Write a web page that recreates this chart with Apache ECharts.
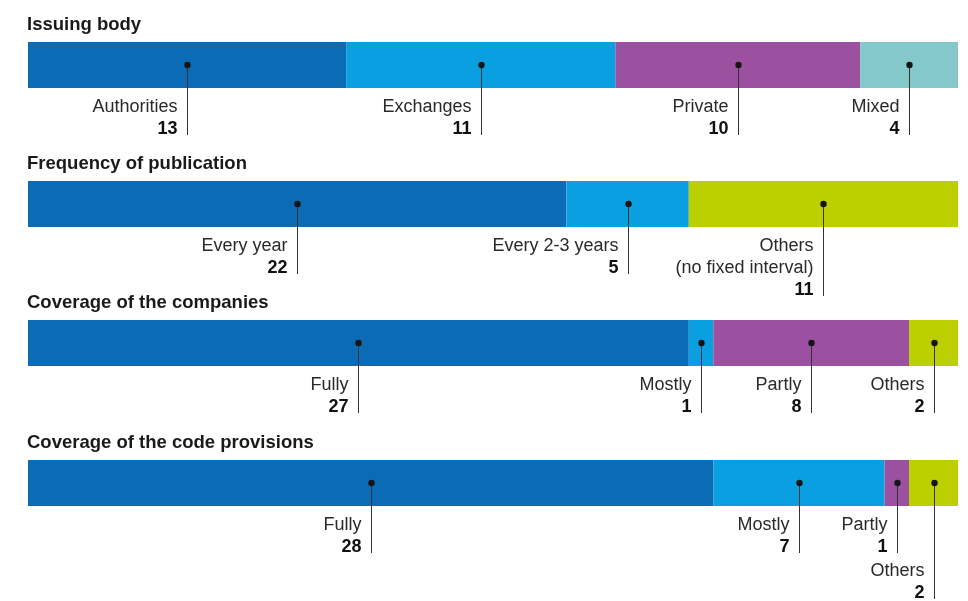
<!DOCTYPE html>
<html><head><meta charset="utf-8">
<script src="https://cdn.jsdelivr.net/npm/echarts@6/dist/echarts.min.js"></script>
<style>html,body{margin:0;padding:0;background:#fff}#c{width:968px;height:601px}</style>
</head><body><div id="c"></div>
<script>
// ---- data ----
const groupTitles = ["Issuing body", "Frequency of publication", "Coverage of the companies", "Coverage of the code provisions"];
const issuingLabels = ["Authorities", "Exchanges", "Private", "Mixed"];
const issuingValues = [13, 11, 10, 4];
const frequencyLabels = ["Every year", "Every 2-3 years", "Others\n(no fixed interval)"];
const frequencyValues = [22, 5, 11];
const companiesLabels = ["Fully", "Mostly", "Partly", "Others"];
const companiesValues = [27, 1, 8, 2];
const provisionsLabels = ["Fully", "Mostly", "Partly", "Others"];
const provisionsValues = [28, 7, 1, 2];

// ---- styles ----
const C = { dark: "#0b6cb5", light: "#0a9fe0", purple: "#9c50a0", teal: "#84c8cb", lime: "#bccf00" };
const groupColors = [
  [C.dark, C.light, C.purple, C.teal],
  [C.dark, C.light, C.lime],
  [C.dark, C.light, C.purple, C.lime],
  [C.dark, C.light, C.purple, C.lime]
];
const groups = [
  { labels: issuingLabels, values: issuingValues },
  { labels: frequencyLabels, values: frequencyValues },
  { labels: companiesLabels, values: companiesValues },
  { labels: provisionsLabels, values: provisionsValues }
];
const FONT = "'Liberation Sans', Arial, Helvetica, sans-serif";
const LABEL_SIZE = 18, LINE_H = 22;
const barTops = [42, 181, 320, 460];
const barH = 46;
const gridLeft = 28, gridRight = 10;

const measureCtx = document.createElement('canvas').getContext('2d');
function textW(s, bold) {
  measureCtx.font = (bold ? 'bold ' : '') + LABEL_SIZE + 'px ' + FONT;
  return measureCtx.measureText(s).width;
}

const chart = echarts.init(document.getElementById('c'), null, { renderer: 'canvas' });
const grid = [], xAxis = [], yAxis = [], series = [], title = [];

groups.forEach((g, gi) => {
  const total = g.values.reduce((a, b) => a + b, 0);
  grid.push({ left: gridLeft, right: gridRight, top: barTops[gi], height: barH });
  xAxis.push({ gridIndex: gi, type: 'value', min: 0, max: total, show: false });
  yAxis.push({ gridIndex: gi, type: 'category', data: [groupTitles[gi]], show: false });
  title.push({ text: groupTitles[gi], left: gridLeft - 1, top: barTops[gi] - 27, padding: 0,
    textStyle: { fontFamily: FONT, fontSize: 18.5, fontWeight: 'bold', color: '#1a1a1a' } });
  // stacked bar segments
  g.values.forEach((v, j) => {
    series.push({ type: 'bar', xAxisIndex: gi, yAxisIndex: gi, stack: 's' + gi, barWidth: '100%',
      data: [v], itemStyle: { color: groupColors[gi][j] }, silent: true, animation: false });
  });
  // annotation data: [start, value, index]
  const ann = [];
  let acc = 0;
  g.values.forEach((v, j) => { ann.push([acc, v, j]); acc += v; });
  const layout = [];
  series.push({
    type: 'custom', xAxisIndex: gi, yAxisIndex: gi, data: ann, silent: true, animation: false, clip: false, z: 10,
    renderItem: function (params, api) {
      const start = api.value(0), v = api.value(1), j = api.value(2);
      const p = api.coord([start + v / 2, 0]);
      const cx = Math.round(p[0]) + 0.5, cy = p[1];
      const nameLines = g.labels[j].split('\n');
      const lines = nameLines.map(s => ({ t: s, b: false })).concat([{ t: String(g.values[j]), b: true }]);
      const w = Math.max.apply(null, lines.map(l => textW(l.t, l.b)));
      let shift = 0;
      if (j > 0 && layout[j - 1]) {
        const prev = layout[j - 1];
        if (cx - 10 - w < prev.cx + 6) shift = prev.shift + prev.n * LINE_H + 2;
      }
      layout[j] = { cx: cx, shift: shift, n: lines.length };
      const firstY = cy + 42 + shift;
      const lastY = firstY + (lines.length - 1) * LINE_H;
      const children = [
        { type: 'line', shape: { x1: cx, y1: cy, x2: cx, y2: lastY + 6 }, style: { stroke: '#333', lineWidth: 1 } },
        { type: 'circle', shape: { cx: cx, cy: cy, r: 3.2 }, style: { fill: '#151515' } }
      ];
      lines.forEach((l, k) => {
        children.push({ type: 'text', x: cx - 10, y: firstY + k * LINE_H,
          style: { text: l.t, align: 'right', verticalAlign: 'middle',
            font: (l.b ? 'bold ' : '') + LABEL_SIZE + 'px ' + FONT, fill: l.b ? '#111' : '#2a2a2a' } });
      });
      return { type: 'group', children: children };
    }
  });
});

chart.setOption({ animation: false, backgroundColor: '#fff', title: title, grid: grid, xAxis: xAxis, yAxis: yAxis, series: series });
</script>
</body></html>
